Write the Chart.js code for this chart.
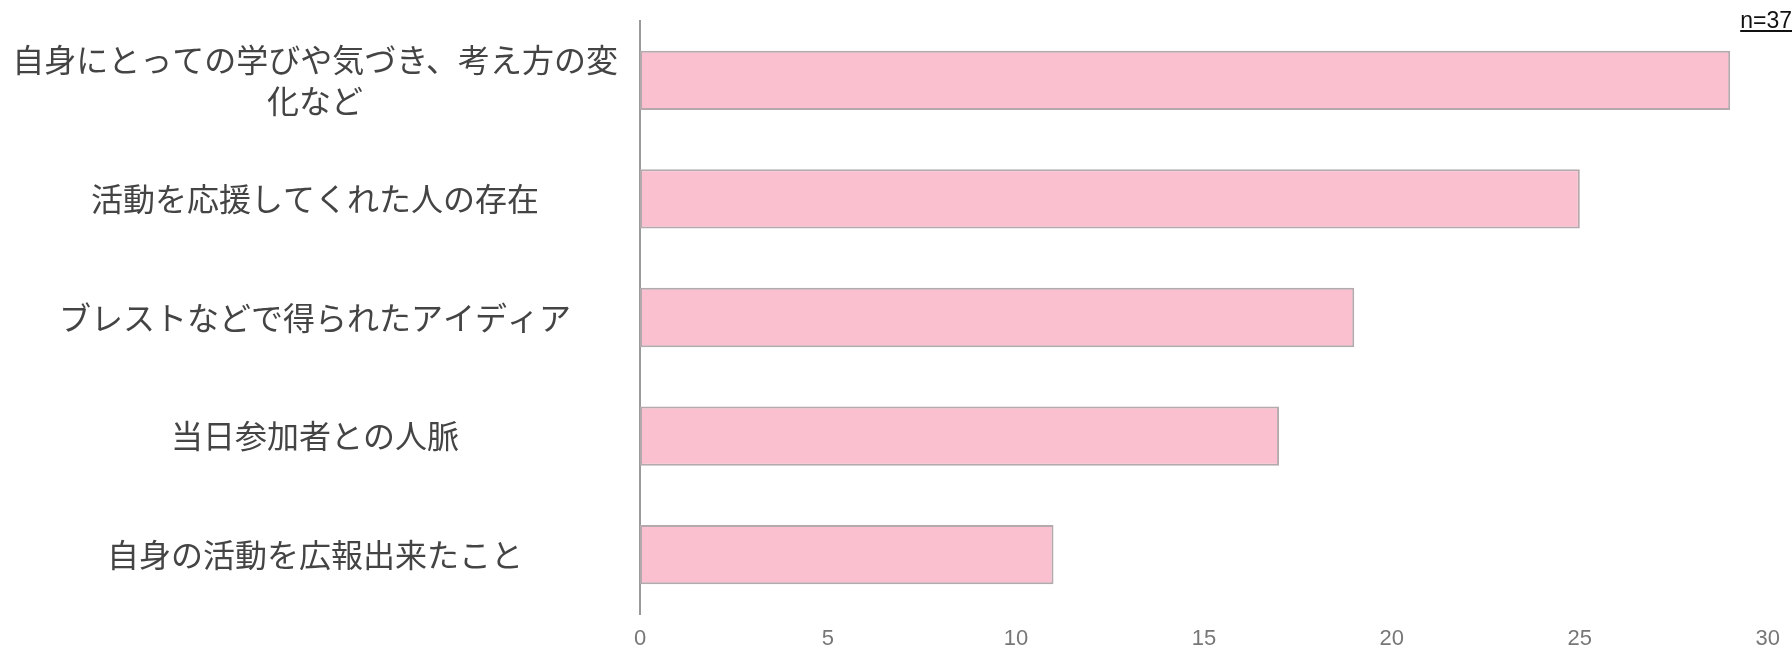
<!DOCTYPE html>
<html>
<head>
<meta charset="utf-8">
<script src="https://cdn.jsdelivr.net/npm/chart.js@4/dist/chart.umd.min.js"></script>
<style>
  html, body { margin: 0; padding: 0; background: #fff; }
  #wrap { position: relative; width: 1792px; height: 649px; }
  #note {
    position: absolute; right: 0; top: 7px;
    font: 23px "Liberation Sans", Arial, sans-serif;
    color: #111; text-decoration: underline;
  }
</style>
</head>
<body>
<div id="wrap">
  <canvas id="chart" width="1792" height="649"></canvas>
  <div id="note">n=37</div>
</div>
<script>
// categories (top to bottom)
const labels = [
  ['自身にとっての学びや気づき、考え方の変', '化など'],
  '活動を応援してくれた人の存在',
  'ブレストなどで得られたアイディア',
  '当日参加者との人脈',
  '自身の活動を広報出来たこと'
];
const counts = [29, 25, 19, 17, 11];
const xMax = 30;
const xStep = 5;

const ctx = document.getElementById('chart').getContext('2d');

const config = {
  type: 'bar',
  data: {
    labels: labels,
    datasets: [{
      data: counts,
      backgroundColor: '#fbc0d0',
      borderColor: '#b4aaae',
      borderWidth: 2,
      borderSkipped: false,
      categoryPercentage: 1,
      barPercentage: 0.5
    }]
  },
  options: {
    indexAxis: 'y',
    responsive: false,
    animation: false,
    layout: { padding: { top: 21, right: 24, bottom: 0, left: 0 } },
    plugins: {
      legend: { display: false },
      tooltip: { enabled: false }
    },
    scales: {
      x: {
        min: 0,
        max: xMax,
        grid: { display: false, drawTicks: false },
        border: { display: false },
        ticks: {
          stepSize: xStep,
          padding: 12,
          color: '#777',
          font: { family: '"Liberation Sans", Arial, sans-serif', size: 22 }
        },
        afterFit: (scale) => { scale.height = 35; }
      },
      y: {
        grid: { display: false, drawTicks: false },
        border: { display: true, color: '#9a9a9a', width: 2 },
        ticks: {
          crossAlign: 'center',
          padding: 22,
          color: '#444',
          font: { family: '"Noto Sans CJK JP", sans-serif', size: 32, lineHeight: 1.3 }
        },
        afterFit: (scale) => {
          scale.width = 640;
          scale.paddingTop = 0;
          scale.paddingBottom = 0;
        }
      }
    }
  }
};

new Chart(ctx, config);
</script>
</body>
</html>
